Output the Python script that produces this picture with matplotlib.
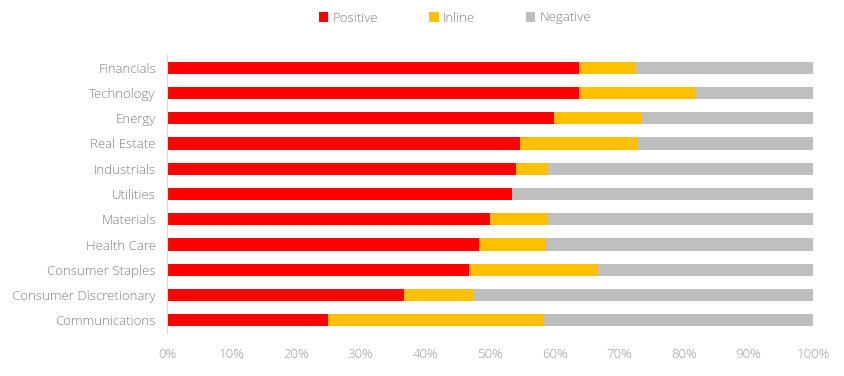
import matplotlib
matplotlib.use("Agg")
import matplotlib.pyplot as plt
from matplotlib.patches import Patch
import numpy as np

categories = ["Financials", "Technology", "Energy", "Real Estate", "Industrials",
              "Utilities", "Materials", "Health Care", "Consumer Staples",
              "Consumer Discretionary", "Communications"]
positive = [63.8, 63.7, 59.9, 54.6, 54.0, 53.4, 50.0, 48.3, 46.7, 36.7, 24.9]
inline = [8.7, 18.2, 13.4, 18.2, 5.0, 0.0, 8.9, 10.3, 19.9, 10.7, 33.5]
negative = [100 - p - i for p, i in zip(positive, inline)]
series_names = ["Positive", "Inline", "Negative"]
xtick_vals = list(range(0, 101, 10))
xtick_labels = [f"{v}%" for v in xtick_vals]

colors = ["#FF0000", "#FFC000", "#BFBFBF"]
text_color = "#808080"
xtext_color = "#9A9A9A"

plt.rcParams['font.family'] = ['Open Sans', 'DejaVu Sans']

fig = plt.figure(figsize=(8.45, 3.76), dpi=100)
ax = fig.add_axes([167/845, 1-333/376, (813-167)/845, (333-55)/376])

y = np.arange(len(categories))
h = 0.48
left = np.zeros(len(categories))
for vals, c, name in zip([positive, inline, negative], colors, series_names):
    ax.barh(y, vals, left=left, height=h, color=c, label=name, linewidth=0)
    left = left + np.array(vals)

ax.set_ylim(len(categories) - 0.5, -0.5)
ax.set_xlim(0, 100)
ax.set_yticks(y)
ax.set_yticklabels(categories, color=text_color, fontsize=9.5, fontweight='light')
ax.set_xticks(xtick_vals)
ax.set_xticklabels(xtick_labels, color=xtext_color, fontsize=9.5, fontweight='light')
ax.tick_params(axis='both', length=0)
ax.tick_params(axis='y', pad=8)
ax.tick_params(axis='x', pad=11)
for s in ["top", "right", "bottom"]:
    ax.spines[s].set_visible(False)
ax.spines["left"].set_color("#D9D9D9")
ax.spines["left"].set_linewidth(0.8)

handles = [Patch(facecolor=c, edgecolor='none') for c in colors]
fig.legend(handles, series_names, loc="center", bbox_to_anchor=(455/845, 1-18/376),
           ncol=3, frameon=False, handlelength=0.7, handleheight=0.7,
           handletextpad=0.3, columnspacing=3.9,
           prop={'size': 9.5, 'weight': 'light'}, labelcolor=text_color)

fig.savefig("out.png", dpi=100)
